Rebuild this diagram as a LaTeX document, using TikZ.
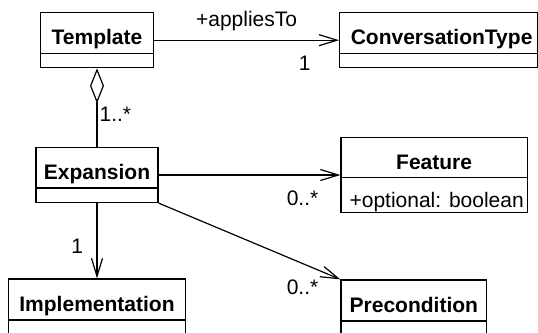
\documentclass[tikz,border=0pt]{standalone}
\usepackage{fontspec}
\setmainfont{Liberation Sans}
\usetikzlibrary{arrows.meta,positioning}

\begin{document}
\begin{tikzpicture}[
  x=1pt, y=-1pt,
  cls/.style={draw, line width=1.2pt, inner sep=0pt, minimum height=55pt},
  clsname/.style={draw, line width=1.2pt, anchor=north, minimum height=40.5pt,
                  inner sep=0pt, text height=26pt, text depth=2pt,
                  font=\fontsize{21}{25}\selectfont\bfseries},
  lbl/.style={font=\fontsize{21}{25}\selectfont, inner sep=0pt, anchor=base},
  assoc/.style={-{Straight Barb[length=18pt, width=11pt]}, line width=1.2pt},
  aggr/.style={{Diamond[open, length=35pt, width=14pt]}-, line width=1.2pt}
]
  \useasboundingbox (0,0) rectangle (538,332);

  % classes
  \node[cls, minimum width=113pt] (template) at (97,40.2) {};
  \node[clsname, minimum width=113pt] (template-name) at (template.north) {Template};

  \node[cls, minimum width=197.8pt] (convtype) at (438.6,40.2) {};
  \node[clsname, minimum width=197.8pt, xshift=3pt, draw=none] (convtype-name) at (convtype.north) {ConversationType};
  \draw[line width=1.2pt] (convtype.west |- convtype-name.south) -- (convtype.east |- convtype-name.south);

  \node[cls, minimum width=122pt] (expansion) at (97,175) {};
  \node[clsname, minimum width=122pt] (expansion-name) at (expansion.north) {Expansion};

  \node[cls, minimum width=186.3pt, minimum height=75.4pt] (feature) at (434.15,175) {};
  \node[clsname, minimum width=186.3pt] (feature-name) at (feature.north) {Feature};
  \node[lbl, anchor=base west] (feature-attr) at ([xshift=9pt, yshift=-28.6pt]feature-name.south west) {+optional: boolean};

  \node[cls, minimum width=177.4pt, minimum height=56pt] (implementation) at (97,307) {};
  \node[clsname, minimum width=177.4pt, minimum height=41pt] (implementation-name) at (implementation.north) {Implementation};

  \node[cls, minimum width=145.7pt, minimum height=56pt] (precondition) at (413.85,308) {};
  \node[clsname, minimum width=145.7pt, minimum height=41pt] (precondition-name) at (precondition.north) {Precondition};

  % associations
  \draw[assoc] (template) -- node[lbl, yshift=13.2pt] {+appliesTo}
    node[lbl, pos=1, xshift=-34.5pt, yshift=-30.5pt] {1} (convtype);
  \draw[aggr] (template) -- node[lbl, pos=1, anchor=base west, xshift=2pt, yshift=25.6pt] {1..*} (expansion);
  \draw[assoc] (expansion) -- node[lbl, pos=1, anchor=base east, xshift=-21.5pt, yshift=-30pt] {0..*} (feature);
  \draw[assoc] (expansion.south east) -- node[lbl, pos=1, anchor=base east, xshift=-21.5pt, yshift=-15pt] {0..*} (precondition.north west);
  \draw[assoc] (expansion) -- node[lbl, pos=1, xshift=-19.9pt, yshift=25pt] {1} (implementation);
\end{tikzpicture}
\end{document}
